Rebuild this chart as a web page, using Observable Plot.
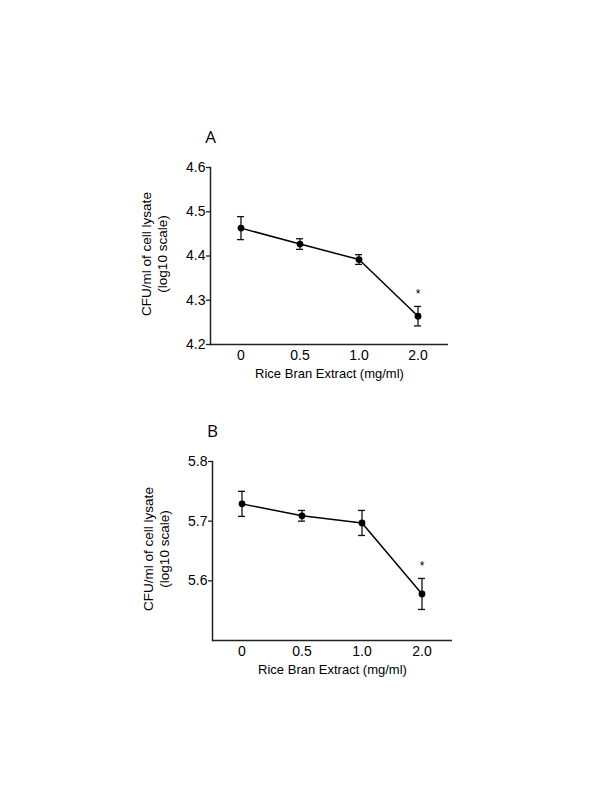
<!DOCTYPE html>
<html>
<head>
<meta charset="utf-8">
<script src="https://cdn.jsdelivr.net/npm/d3@7"></script>
<script src="https://cdn.jsdelivr.net/npm/@observablehq/plot@0.6"></script>
<style>
  body { margin: 0; background: #fff; }
  #root { position: relative; width: 600px; height: 800px; overflow: hidden; }
  .panel { position: absolute; left: 0; }
</style>
</head>
<body>
<div id="root"></div>
<script>
// Categories (Rice Bran Extract, mg/ml)
const doses = ["0", "0.5", "1.0", "2.0"];

// Panel A
const meanA = [4.463, 4.427, 4.392, 4.264];
const errA  = [0.026, 0.012, 0.011, 0.022];
const yTicksA = [4.2, 4.3, 4.4, 4.5, 4.6];
const yDomainA = [4.2, 4.6];
const starA = {dose: "2.0", value: 4.314};

// Panel B
const meanB = [5.729, 5.709, 5.697, 5.578];
const errB  = [0.021, 0.009, 0.021, 0.026];
const yTicksB = [5.6, 5.7, 5.8];
const yDomainB = [5.5, 5.8];
const starB = {dose: "2.0", value: 5.625};

const yLabel = "CFU/ml of cell lysate\n(log10 scale)";
const xLabel = "Rice Bran Extract (mg/ml)";

function makePanel(letter, means, errs, yDomain, yTicks, star, m) {
  const data = doses.map((d, i) => ({dose: d, mean: means[i], lo: means[i] - errs[i], hi: means[i] + errs[i]}));
  return Plot.plot({
    width: 600,
    height: 300,
    marginLeft: m.left,
    marginRight: m.right,
    marginTop: m.top,
    marginBottom: m.bottom,
    style: {fontFamily: "'Liberation Sans', Arial, sans-serif", fontSize: "13px", color: "#000", background: "white"},
    // narrow bands: the band width is the error-bar cap width
    x: {type: "band", domain: doses, paddingInner: 0.88, paddingOuter: 0.44},
    y: {domain: yDomain},
    marks: [
      Plot.axisY({ticks: yTicks, tickFormat: d3.format(".1f"), tickSize: 4, tickPadding: 1, label: null, stroke: "#222", strokeWidth: 1.3, fontSize: 14}),
      Plot.axisX({tickSize: 0, tickPadding: 6, label: null, fontSize: 14}),
      Plot.frame({anchor: "left", stroke: "#222", strokeWidth: 1.5}),
      Plot.ruleY([yDomain[0]], {stroke: "#222", strokeWidth: 1.5}),
      Plot.ruleX(data, {x: "dose", y1: "lo", y2: "hi", stroke: "#111", strokeWidth: 1.3}),
      Plot.tickY(data, {x: "dose", y: "lo", stroke: "#111", strokeWidth: 1.3}),
      Plot.tickY(data, {x: "dose", y: "hi", stroke: "#111", strokeWidth: 1.3}),
      Plot.line(data, {x: "dose", y: "mean", stroke: "#000", strokeWidth: 1.5}),
      Plot.dot(data, {x: "dose", y: "mean", r: 3.4, fill: "#000", stroke: null}),
      Plot.text([star], {x: "dose", y: "value", text: () => "*", fontSize: 12}),
      Plot.text([letter], {frameAnchor: "top-left", lineAnchor: "middle", dy: m.letterDy, dx: 0, fontSize: 17, fontFamily: "'Open Sans', sans-serif", textAnchor: "middle"}),
      Plot.text([yLabel], {frameAnchor: "left", rotate: -90, dx: -57, dy: -2, fontSize: 13.5, lineHeight: 1.2, textAnchor: "middle", lineAnchor: "middle"}),
      Plot.text([xLabel], {frameAnchor: "bottom", lineAnchor: "middle", dy: 29, fontSize: 13, textAnchor: "middle"})
    ]
  });
}

const root = document.getElementById("root");

const pA = makePanel("A", meanA, errA, yDomainA, yTicksA, starA, {left: 210, right: 152, top: 67, bottom: 56, letterDy: -30});
pA.classList.add("panel");
pA.style.top = "100px";
root.appendChild(pA);

const pB = makePanel("B", meanB, errB, yDomainB, yTicksB, starB, {left: 212, right: 148, top: 71, bottom: 50, letterDy: -30});
pB.classList.add("panel");
pB.style.top = "390px";
root.appendChild(pB);
</script>
</body>
</html>
